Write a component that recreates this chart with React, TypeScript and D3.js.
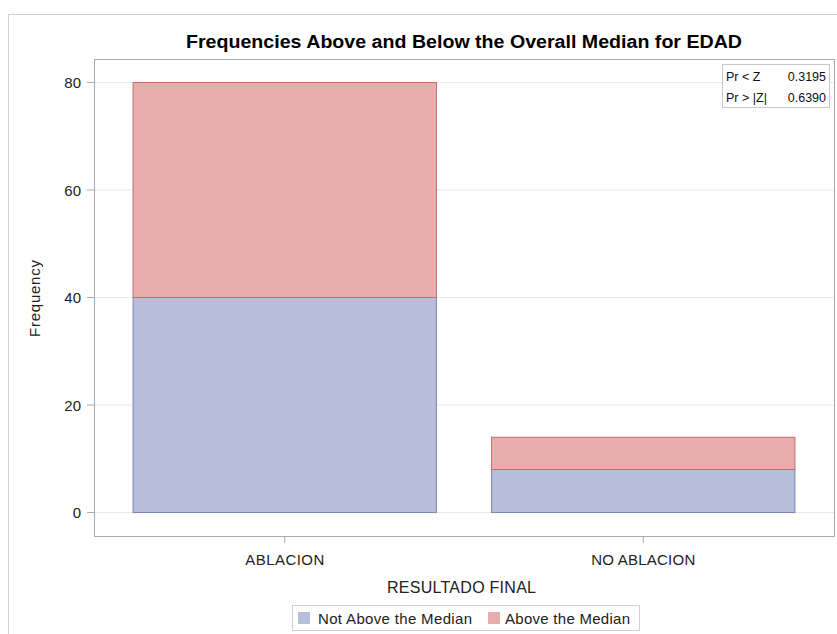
import React from "react";
import * as d3 from "d3";

const categories = ["ABLACION", "NO ABLACION"];
const notAbove = [40, 8];
const above = [40, 6];
const yTicks = [0, 20, 40, 60, 80];
const seriesNames = ["Not Above the Median", "Above the Median"];
const statLabels = ["Pr < Z", "Pr > |Z|"];
const statValues = ["0.3195", "0.6390"];

const W = 837;
const H = 634;
const frame = { left: 94, right: 834, top: 59, bottom: 536 };
const FONT = "'Liberation Sans', Arial, sans-serif";

const fills = ["#b7bed9", "#e8aeae"];
const strokes = ["#7a87b7", "#c46b6b"];

// text widths used to spread the SAS-style labels
const catWidths = [79, 104];
const legendWidths = [154, 125];

export default function App() {
  const x = d3
    .scaleBand<string>()
    .domain(categories)
    .range([frame.left, frame.right])
    .paddingInner(0.151)
    .paddingOuter(0.1076);
  const y = d3.scaleLinear().domain([0, 80]).range([512.5, 82.5]);

  const stacked = categories.map((c, i) => ({
    cat: c,
    segs: [
      { y0: 0, y1: notAbove[i], s: 0 },
      { y0: notAbove[i], y1: notAbove[i] + above[i], s: 1 },
    ],
  }));

  return (
    <svg
      width={W}
      height={H}
      style={{ position: "absolute", left: 0, top: 0, background: "#fff" }}
      fontFamily={FONT}
    >
      <rect x={8.5} y={14.5} width={840} height={640} fill="#fff" stroke="#d0d0d0" />
      <text
        x={186}
        y={48}
        fontSize={18}
        fontWeight="bold"
        fill="#000"
        textLength={556}
        lengthAdjust="spacingAndGlyphs"
      >
        Frequencies Above and Below the Overall Median for EDAD
      </text>

      {/* grid */}
      {yTicks.map((t) => (
        <line key={"g" + t} x1={frame.left} x2={frame.right} y1={y(t)} y2={y(t)} stroke="#e9e9e9" />
      ))}

      {/* bars */}
      {stacked.map((d) =>
        d.segs.map((s) => (
          <rect
            key={d.cat + s.s}
            x={x(d.cat)! + 0.5}
            y={y(s.y1)}
            width={x.bandwidth() - 1}
            height={y(s.y0) - y(s.y1)}
            fill={fills[s.s]}
            stroke={strokes[s.s]}
            strokeWidth={1}
          />
        ))
      )}

      {/* frame */}
      <rect
        x={frame.left + 0.5}
        y={frame.top + 0.5}
        width={frame.right - frame.left}
        height={frame.bottom - frame.top}
        fill="none"
        stroke="#a5abb2"
      />

      {/* y axis */}
      {yTicks.map((t) => (
        <g key={"t" + t}>
          <line x1={frame.left - 7} x2={frame.left} y1={y(t)} y2={y(t)} stroke="#a5abb2" />
          <text x={frame.left - 13} y={y(t) + 5.5} textAnchor="end" fontSize={15} fill="#222">
            {t}
          </text>
        </g>
      ))}
      <text
        transform={`translate(40,${(frame.top + frame.bottom) / 2 + 1}) rotate(-90)`}
        textAnchor="middle"
        fontSize={15}
        fill="#222"
        textLength={77}
        lengthAdjust="spacing"
      >
        Frequency
      </text>

      {/* x axis */}
      {categories.map((c, i) => {
        const cx = x(c)! + x.bandwidth() / 2;
        return (
          <g key={"x" + c}>
            <line x1={cx} x2={cx} y1={frame.bottom} y2={frame.bottom + 7} stroke="#a5abb2" />
            <text
              x={cx - catWidths[i] / 2}
              y={565}
              fontSize={15}
              fill="#222"
              textLength={catWidths[i]}
              lengthAdjust="spacing"
            >
              {c}
            </text>
          </g>
        );
      })}
      <text
        x={387}
        y={593}
        fontSize={16}
        fill="#222"
        textLength={149}
        lengthAdjust="spacing"
      >
        RESULTADO FINAL
      </text>

      {/* inset statistics */}
      <rect x={722.5} y={64.5} width={107} height={43} fill="#fff" stroke="#c8c8c8" />
      {statLabels.map((l, i) => (
        <g key={l}>
          <text x={726} y={81 + i * 21} fontSize={12.5} fill="#111">
            {l}
          </text>
          <text x={826} y={81 + i * 21} fontSize={12.5} fill="#111" textAnchor="end">
            {statValues[i]}
          </text>
        </g>
      ))}

      {/* legend */}
      <rect x={292.5} y={605.5} width={347} height={25} fill="#fff" stroke="#d0d0d0" />
      {seriesNames.map((n, i) => {
        const lx = i === 0 ? 297 : 487;
        return (
          <g key={n}>
            <rect x={lx + 0.5} y={611.5} width={13} height={13} fill={fills[i]} stroke="#fff" />
            <text
              x={lx + (i === 0 ? 21 : 18)}
              y={623.5}
              fontSize={15}
              fill="#222"
              textLength={legendWidths[i]}
              lengthAdjust="spacing"
            >
              {n}
            </text>
          </g>
        );
      })}
    </svg>
  );
}
